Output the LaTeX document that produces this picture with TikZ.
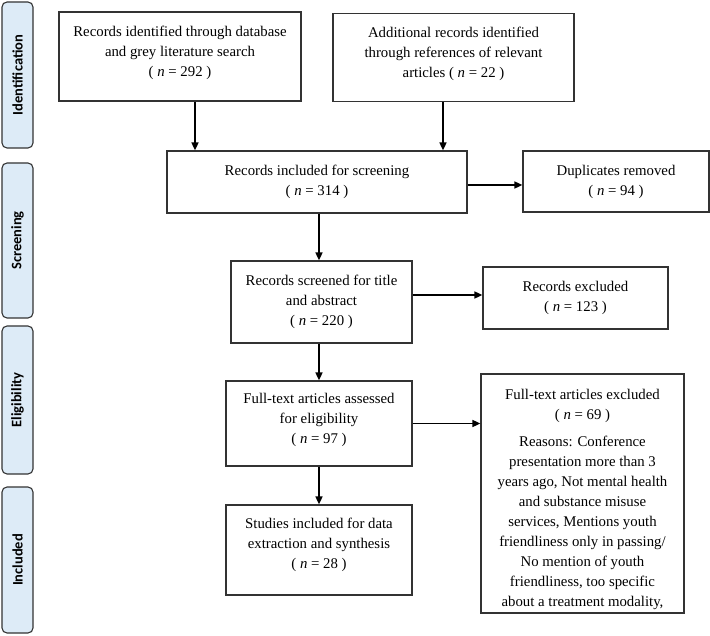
\documentclass[tikz,border=0pt]{standalone}
\usepackage{fontspec}
\setmainfont{Liberation Serif}
\newfontfamily\labfont{Carlito}
\usetikzlibrary{arrows.meta}
\definecolor{labfill}{HTML}{DDEBF7}
\definecolor{edgegray}{HTML}{333333}
\newcommand\mydepth[1]{\rule[-#1]{0pt}{#1}}
\begin{document}
\begin{tikzpicture}[x=1pt,y=-1pt,
  box/.style={draw=edgegray, line width=1.2pt, align=center, inner sep=0pt,
    font=\fontsize{14.8}{20}\selectfont},
  side/.style={draw=edgegray, fill=labfill, rounded corners=5pt, line width=1.1pt,
    minimum height=31pt, inner sep=0pt, rotate=90,
    font=\labfont\bfseries\fontsize{14.5}{17}\selectfont},
  arr/.style={line width=1.6pt, -{Triangle[length=8pt,width=7pt]}}]
\useasboundingbox (0,0) rectangle (710,636);

% phase labels
\node[side, minimum width=146pt] (sid) at (17.5,75) {Identification};
\node[side, minimum width=155pt] (sscr) at (17.5,240.5) {Screening};
\node[side, minimum width=148pt] (seli) at (17.5,400) {Eligibility};
\node[side, minimum width=146pt] (sinc) at (17.5,560) {Included};

% boxes
\node[box, minimum width=242pt, minimum height=89pt] (b1) at (180,56.5)
  {Records identified through database\\ and grey literature search\\ ( \textit{n} = 292 )\mydepth{10pt}};
\node[box, minimum width=241pt, minimum height=88pt] (b2) at (453.5,57.5)
  {Additional records identified\\ through references of relevant\\ articles ( \textit{n} = 22 )\mydepth{10pt}};
\node[box, minimum width=300pt, minimum height=62pt] (b3) at (317,182)
  {Records included for screening\\ ( \textit{n} = 314 )};
\node[box, minimum width=186pt, minimum height=61pt] (dup) at (616,181.5)
  {Duplicates removed\\ ( \textit{n} = 94 )};
\node[box, minimum width=181pt, minimum height=82pt] (b4) at (321.5,302)
  {Records screened for title\\ and abstract\\ ( \textit{n} = 220 )};
\node[box, minimum width=185pt, minimum height=62pt] (rex) at (575.5,298)
  {Records excluded\\ ( \textit{n} = 123 )};
\node[box, minimum width=186pt, minimum height=85pt] (b5) at (319,423.5)
  {Full-text articles assessed\\ for eligibility\\ ( \textit{n} = 97 )\mydepth{10pt}};
\node[box, minimum width=203pt, minimum height=239pt] (ftx) at (582.5,493.5)
  {\rule{0pt}{25pt}Full-text articles excluded\\ ( \textit{n} = 69 )\\[7pt]
   Reasons: Conference\\ presentation more than 3\\ years ago, Not mental health\\
   and substance misuse\\ services, Mentions youth\\ friendliness only in passing/\\
   No mention of youth\\ friendliness, too specific\\ about a treatment modality,\mydepth{7pt}};
\node[box, minimum width=186pt, minimum height=90pt] (b6) at (319,550)
  {Studies included for data\\ extraction and synthesis\\ ( \textit{n} = 28 )\mydepth{14pt}};

% connectors
\coordinate (c1) at (195,0);
\coordinate (c2) at (443,0);
\coordinate (c3) at (0,185);
\coordinate (c4) at (0,295);
\draw[arr] (b1.south -| c1) -- (b3.north -| c1);
\draw[arr] (b2.south -| c2) -- (b3.north -| c2);
\draw[arr] (b3.east |- c3) -- (dup.west |- c3);
\draw[arr] (b3.south -| b5) -- (b4.north -| b5);
\draw[arr] (b4.south -| b5) -- (b5.north);
\draw[arr] (b4.east |- c4) -- (rex.west |- c4);
\draw[arr] (b5.east) -- (ftx.west |- b5.east);
\draw[arr] (b5.south) -- (b6.north);
\end{tikzpicture}
\end{document}
